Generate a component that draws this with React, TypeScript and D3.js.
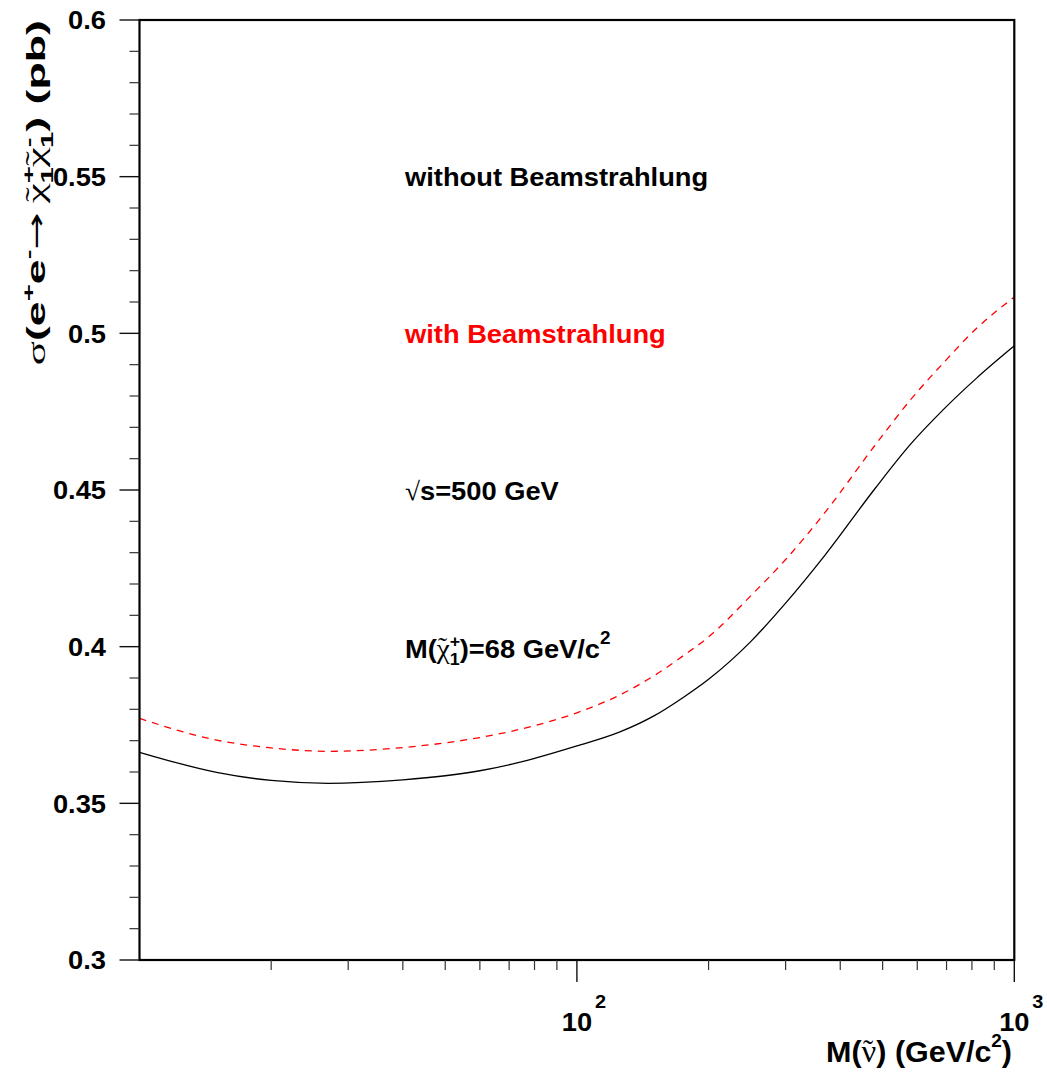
import React from "react";
import * as d3 from "d3";

// sneutrino mass (GeV/c^2)
const massGrid = [10, 15, 20, 27, 40, 50, 60, 75, 100, 125, 150, 175, 200, 250, 300, 370, 480, 580, 690, 820, 1000];
// cross sections (pb)
const sigmaWithout = [0.3663, 0.3599, 0.3573, 0.3564, 0.3575, 0.3588, 0.3604, 0.3633, 0.3683, 0.3727, 0.3779, 0.3838, 0.3896, 0.4017, 0.4139, 0.4294, 0.4504, 0.4647, 0.4758, 0.4857, 0.496];
const sigmaWith = [0.3771, 0.3702, 0.3677, 0.3666, 0.3678, 0.3693, 0.371, 0.3738, 0.3789, 0.3845, 0.3907, 0.3971, 0.4031, 0.4163, 0.4278, 0.443, 0.4642, 0.4789, 0.4907, 0.5016, 0.5116];

const yMajorTicks = [0.3, 0.35, 0.4, 0.45, 0.5, 0.55, 0.6];
const xMajorTicks = [100, 1000];
const xMajorExponents = ["2", "3"];
const xMinorTicks = [20, 30, 40, 50, 60, 70, 80, 90, 200, 300, 400, 500, 600, 700, 800, 900];

const FONT = "'Liberation Sans', Arial, Helvetica, sans-serif";
const SERIF = "'Liberation Serif', 'Times New Roman', serif";
const ARROWFONT = "'DejaVu Sans', sans-serif";

// offsets for a "˜" centered over the previous glyph of width gw (tilde font size fs)
function tildeShift(fs: number, gw: number) {
  const tw = 0.333 * fs;
  const a = (gw + tw) / 2;
  return { pre: -a, post: a - tw };
}

export default function App() {
  const W = 1047;
  const H = 1072;
  const x = d3.scaleLog().domain([10, 1000]).range([139.5, 1014.3]);
  const y = d3.scaleLinear().domain([0.3, 0.6]).range([960, 20]);
  const line = d3
    .line<[number, number]>()
    .x((d) => x(d[0]))
    .y((d) => y(d[1]))
    .curve(d3.curveMonotoneX);

  const blackPts = massGrid.map((m, i) => [m, sigmaWithout[i]] as [number, number]);
  const redPts = massGrid.map((m, i) => [m, sigmaWith[i]] as [number, number]);

  const yMinor = d3
    .range(30, 61)
    .map((v) => v / 100)
    .filter((v) => !yMajorTicks.some((t) => Math.abs(t - v) < 1e-9));

  const fmt = d3.format("~g");
  const x0 = x(10);
  const x1 = x(1000);
  const yb = y(0.3);
  const yt = y(0.6);
  const sx = 1.05;
  const yfs = 26;

  const tNu = tildeShift(29, 0.5 * 31);
  const tChiY = tildeShift(yfs, 0.5 * yfs);
  const tChiA = tildeShift(26, 0.5 * 28);

  return (
    <svg
      width={W}
      height={H}
      style={{ position: "absolute", left: 0, top: 0, background: "#fff" }}
      fontFamily={FONT}
      fontWeight="bold"
    >
      <rect x={0} y={0} width={W} height={H} fill="#fff" />

      {/* curves */}
      <path d={line(blackPts) || ""} fill="none" stroke="#000" strokeWidth={1.3} />
      <path d={line(redPts) || ""} fill="none" stroke="#ff0000" strokeWidth={1.3} strokeDasharray="7,6" />

      {/* frame */}
      <rect x={x0} y={yt} width={x1 - x0} height={yb - yt} fill="none" stroke="#000" strokeWidth={2.2} />

      {/* y ticks */}
      {yMajorTicks.map((t) => (
        <g key={"ym" + t}>
          <line x1={x0 - 20} x2={x0} y1={y(t)} y2={y(t)} stroke="#111" strokeWidth={1.4} />
          <text
            transform={`translate(106,${y(t)}) scale(${sx},1)`}
            textAnchor="end"
            dy="0.36em"
            fontSize={26}
          >
            {fmt(t)}
          </text>
        </g>
      ))}
      {yMinor.map((t) => (
        <line key={"yn" + t} x1={x0 - 10} x2={x0} y1={y(t)} y2={y(t)} stroke="#333" strokeWidth={1.2} />
      ))}

      {/* x ticks */}
      {xMinorTicks.map((t) => (
        <line key={"xn" + t} x1={x(t)} x2={x(t)} y1={yb} y2={yb + 10} stroke="#333" strokeWidth={1.2} />
      ))}
      {xMajorTicks.map((t, i) => (
        <g key={"xm" + t}>
          <line x1={x(t)} x2={x(t)} y1={yb} y2={yb + 22} stroke="#111" strokeWidth={1.4} />
          <text transform={`translate(${x(t)},1031) scale(${sx},1)`} textAnchor="middle" fontSize={26}>
            10
          </text>
          <text transform={`translate(${x(t) + 18},1008) scale(${sx},1)`} fontSize={19}>
            {xMajorExponents[i]}
          </text>
        </g>
      ))}

      {/* x title */}
      <text transform={`translate(1012,1062) scale(${sx},1)`} textAnchor="end" fontSize={29}>
        M(
        <tspan fontFamily={SERIF} fontWeight="normal" fontSize={31}>
          {"\u03BD"}
        </tspan>
        <tspan fontFamily={SERIF} fontWeight="normal" fontSize={29} dx={tNu.pre} dy={-2}>
          {"\u02DC"}
        </tspan>
        <tspan dx={tNu.post} dy={2}>
          ) (GeV/c
        </tspan>
        <tspan fontSize={18} dy={-15}>
          2
        </tspan>
        <tspan dy={15}>)</tspan>
      </text>

      {/* y title (rotated, stretched along its length) */}
      <text transform="translate(45,20) rotate(-90) scale(1.72,1)" textAnchor="end" fontSize={yfs}>
        <tspan fontFamily={SERIF} fontWeight="normal">
          {"\u03C3"}
        </tspan>
        <tspan>(e</tspan>
        <tspan fontSize={17} dy={-11}>
          +
        </tspan>
        <tspan dy={11}>e</tspan>
        <tspan fontSize={17} dy={-11}>
          -
        </tspan>
        <tspan dy={11} fontFamily={ARROWFONT} fontWeight="normal">
          {"\u2192\u2009"}
        </tspan>
        <tspan fontFamily={SERIF} fontWeight="normal">
          {"\u03C7"}
        </tspan>
        <tspan fontFamily={SERIF} fontWeight="normal" dx={tChiY.pre} dy={-2}>
          {"\u02DC"}
        </tspan>
        <tspan fontSize={17} dx={tChiY.post} dy={-9}>
          +
        </tspan>
        <tspan fontSize={17} dx={-10} dy={19}>
          1
        </tspan>
        <tspan fontFamily={SERIF} fontWeight="normal" dy={-8}>
          {"\u03C7"}
        </tspan>
        <tspan fontFamily={SERIF} fontWeight="normal" dx={tChiY.pre} dy={-2}>
          {"\u02DC"}
        </tspan>
        <tspan fontSize={17} dx={tChiY.post} dy={-9}>
          -
        </tspan>
        <tspan fontSize={17} dx={-6} dy={19}>
          1
        </tspan>
        <tspan dy={-8}>) (pb)</tspan>
      </text>

      {/* annotations */}
      <text transform={`translate(405,186) scale(${sx},1)`} fontSize={26}>
        without Beamstrahlung
      </text>
      <text transform={`translate(405,343) scale(${sx},1)`} fontSize={26} fill="#ff0000">
        with Beamstrahlung
      </text>
      <text transform={`translate(405,500) scale(${sx},1)`} fontSize={26}>
        <tspan fontFamily={SERIF} fontWeight="normal">
          {"\u221A"}
        </tspan>
        s=500 GeV
      </text>
      <text transform={`translate(405,658) scale(${sx},1)`} fontSize={26}>
        M(
        <tspan fontFamily={SERIF} fontWeight="normal" fontSize={28}>
          {"\u03C7"}
        </tspan>
        <tspan fontFamily={SERIF} fontWeight="normal" fontSize={26} dx={tChiA.pre} dy={-3}>
          {"\u02DC"}
        </tspan>
        <tspan fontSize={17} dx={tChiA.post} dy={-8}>
          +
        </tspan>
        <tspan fontSize={17} dx={-10} dy={18}>
          1
        </tspan>
        <tspan dy={-7}>)=68 GeV/c</tspan>
        <tspan fontSize={18} dy={-14}>
          2
        </tspan>
      </text>
    </svg>
  );
}
